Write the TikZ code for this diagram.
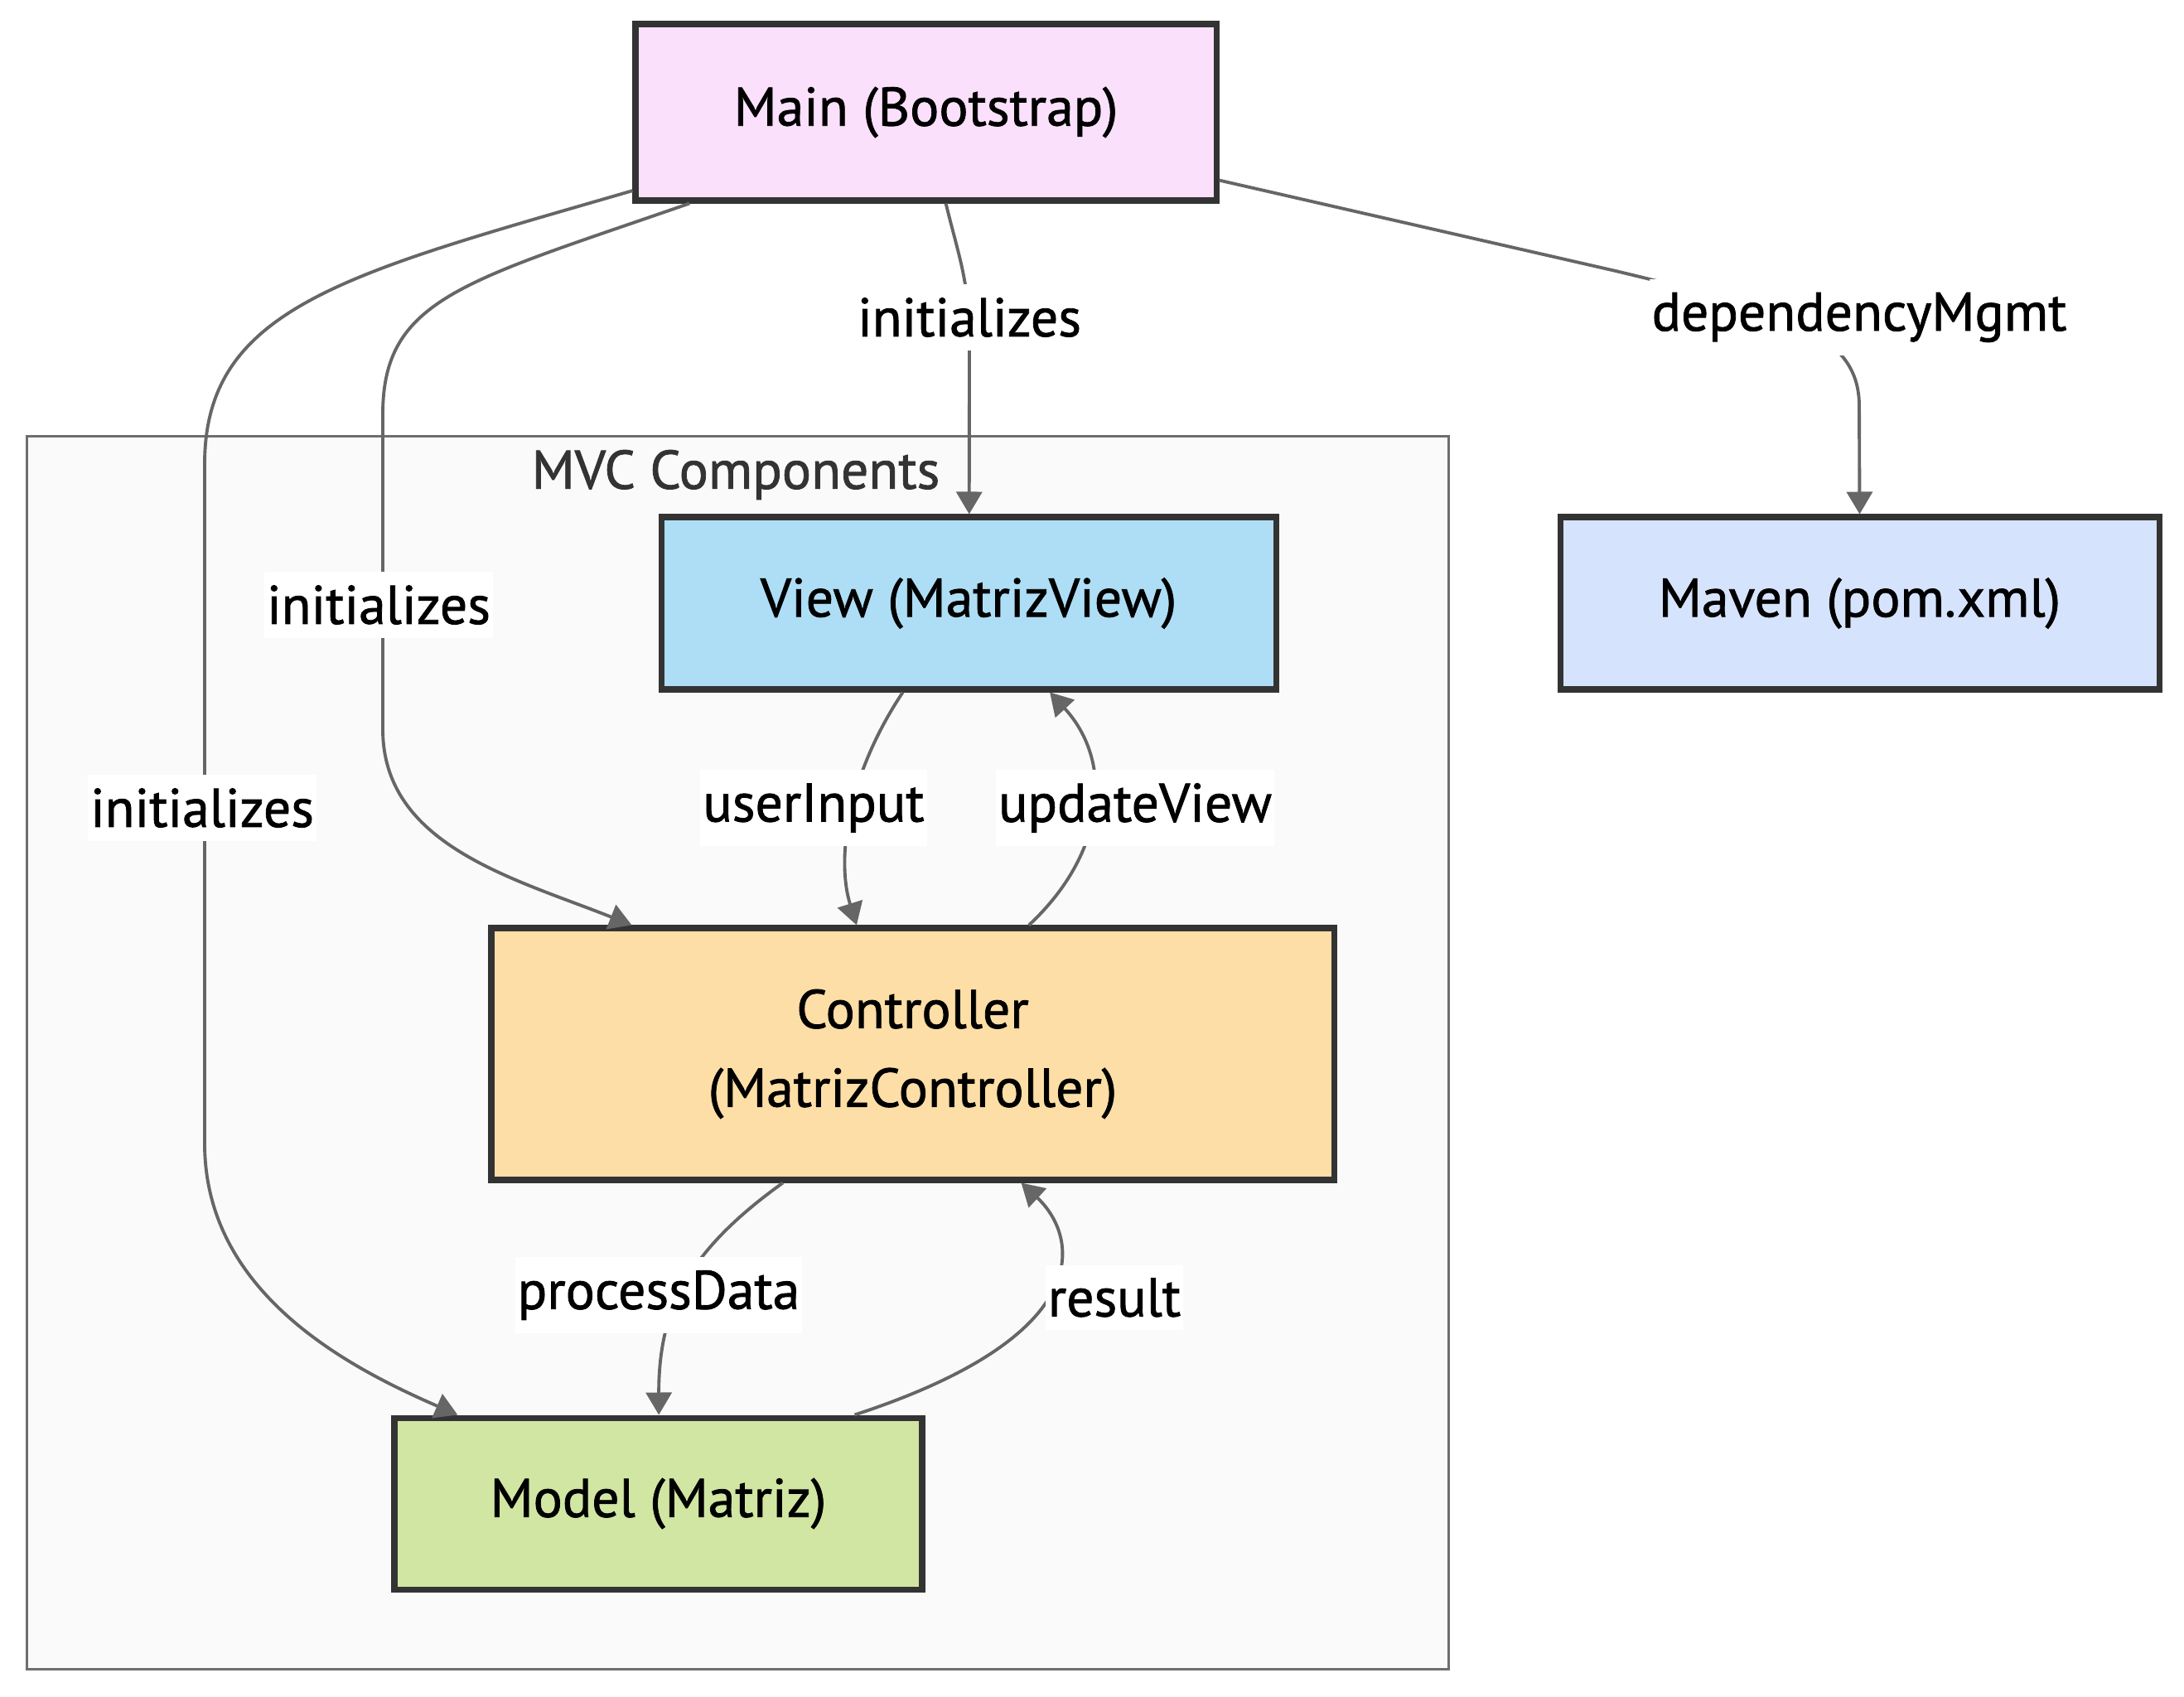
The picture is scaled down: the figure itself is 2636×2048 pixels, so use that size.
\documentclass[tikz,border=0pt]{standalone}
\usepackage{fontspec}
\setmainfont{PT Sans}[RawFeature={embolden=1.2}]
\usetikzlibrary{arrows.meta,calc}
\definecolor{boxline}{HTML}{333333}
\definecolor{edgeline}{HTML}{666666}
\definecolor{mainfill}{HTML}{FBE0FC}
\definecolor{viewfill}{HTML}{AEDEF5}
\definecolor{ctrlfill}{HTML}{FDDEA6}
\definecolor{modelfill}{HTML}{D1E6A3}
\definecolor{mavenfill}{HTML}{D6E3FC}
\definecolor{clusterfill}{HTML}{FAFAFA}
\definecolor{clusterline}{HTML}{6E6E6E}
\tikzset{
	box/.style={draw=boxline,line width=2pt,align=center,inner sep=0pt},
	edge/.style={draw=edgeline,line width=1.1pt,-{Triangle[length=2.7mm,width=3.1mm]}},
	elabel/.style={fill=white,inner xsep=0.3mm,inner ysep=1.6mm},
	cluster/.style={draw=clusterline,fill=clusterfill,line width=0.85pt,inner sep=0pt}
}
\begin{document}
\begin{tikzpicture}[x=0.1mm,y=-0.1mm,font=\fontsize{18.7}{27}\selectfont]
				\useasboundingbox (0,0) rectangle (2636,2048);
				\node[cluster,minimum width=171.6mm,minimum height=148.8mm] (mvc) at (890,1270) {};
				\node[text=boxline] (mvc-title) at (888,573) {MVC Components};
				\node[box,fill=mainfill,minimum width=70.1mm,minimum height=21.3mm] (main) at (1117.5,135.5) {Main (Bootstrap)};
				\node[box,fill=mavenfill,minimum width=72.3mm,minimum height=20.8mm] (maven) at (2244.5,728) {Maven (pom.xml)};
				\node[box,fill=viewfill,minimum width=74.2mm,minimum height=20.8mm] (view) at (1169,728) {View (MatrizView)};
				\node[box,fill=ctrlfill,minimum width=101.7mm,minimum height=30.4mm] (ctrl) at (1101.5,1272) {Controller\\(MatrizController)};
				\node[box,fill=modelfill,minimum width=63.7mm,minimum height=20.7mm] (model) at (794.5,1814.5) {Model (Matriz)};
				% edges out of main
				\draw[edge] ($(main.south west)!0.534!(main.south east)$) .. controls (1160,320) and (1170,340) .. (1170,420) -- ($(view.north west)!0.501!(view.north east)$);
				\draw[edge] ($(main.south east)!0.127!(main.north east)$) -- (1950,327) .. controls (2150,375) and (2244,400) .. (2244,490) -- ($(maven.north west)!0.5!(maven.north east)$);
				\draw[edge] ($(main.south west)!0.097!(main.south east)$) .. controls (560,340) and (462,360) .. (462,500) -- (462,880) .. controls (462,1020) and (620,1060) .. ($(ctrl.north west)!0.169!(ctrl.north east)$);
				\draw[edge] ($(main.south west)!0.07!(main.north west)$) .. controls (420,330) and (247,370) .. (247,560) -- (247,1380) .. controls (247,1560) and (420,1650) .. ($(model.north west)!0.124!(model.north east)$);
				% edges inside the cluster
				\draw[edge] ($(view.south west)!0.394!(view.south east)$) .. controls (1020,940) and (1010,1040) .. ($(ctrl.north west)!0.434!(ctrl.north east)$);
				\draw[edge] ($(ctrl.north west)!0.637!(ctrl.north east)$) .. controls (1335,1030) and (1345,920) .. ($(view.south west)!0.631!(view.south east)$);
				\draw[edge] ($(ctrl.south west)!0.347!(ctrl.south east)$) .. controls (830,1510) and (795,1580) .. ($(model.north west)!0.501!(model.north east)$);
				\draw[edge] ($(model.north west)!0.868!(model.north east)$) .. controls (1330,1610) and (1300,1490) .. ($(ctrl.south west)!0.628!(ctrl.south east)$);
				% edge labels
				\node[elabel] (l-view) at (1170,383) {initializes};
				\node[elabel] (l-maven) at (2244,383) {dependencyMgmt};
				\node[elabel] (l-ctrl) at (457,730) {initializes};
				\node[elabel] (l-model) at (244,975) {initializes};
				\node[elabel] (l-input) at (982,975) {userInput};
				\node[elabel] (l-update) at (1370,975) {updateView};
				\node[elabel] (l-process) at (795,1563) {processData};
				\node[elabel] (l-result) at (1345,1566) {result};
			\end{tikzpicture}
\end{document}
